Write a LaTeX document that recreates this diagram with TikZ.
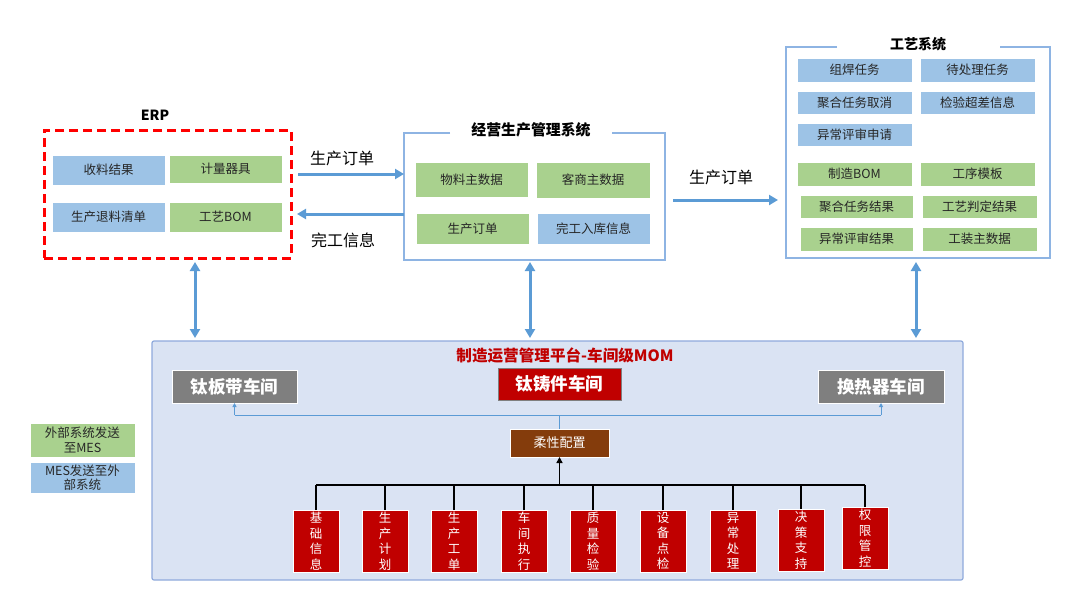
\documentclass[tikz,border=0pt]{standalone}
\usepackage{fontspec}
\setmainfont{Noto Sans CJK SC}
\usetikzlibrary{arrows.meta,calc}
\definecolor{bfill}{HTML}{9DC3E6}
\definecolor{gfill}{HTML}{A9D18E}
\definecolor{barrow}{HTML}{5B9BD5}
\definecolor{bline}{HTML}{8EB4E3}
\definecolor{momfill}{HTML}{DAE3F3}
\definecolor{momline}{HTML}{8FAADC}
\definecolor{dred}{HTML}{C00000}
\definecolor{brownbox}{HTML}{843C0C}
\definecolor{wgray}{HTML}{7F7F7F}
\definecolor{txt}{HTML}{262626}
\newcommand\bx[7]{\node[#2,minimum width={(#5-#3)*1pt},minimum height={(#6-#4)*1pt}] (#1) at ({(#3+#5)/2},{(#4+#6)/2}) {#7};}
\tikzset{
  base/.style={inner sep=0pt,outer sep=0pt},
  bluebox/.style={base,fill=bfill,draw=white,line width=0.8pt,text=txt,font=\fontsize{12.5}{14}\selectfont},
  greenbox/.style={base,fill=gfill,draw=white,line width=0.8pt,text=txt,font=\fontsize{12.5}{14}\selectfont},
  title/.style={font=\bfseries\fontsize{14}{16}\selectfont,text=black,inner sep=0pt},
  arrlabel/.style={font=\fontsize{16}{18}\selectfont,text=black,inner sep=0pt},
  bigarrow/.style={draw=barrow,line width=3pt,-{Triangle[width=10pt,length=9pt]}},
  dblarrow/.style={draw=barrow,line width=3pt,{Triangle[width=10pt,length=9pt]}-{Triangle[width=10pt,length=9pt]}},
  grayws/.style={base,fill=wgray,draw=white,line width=0.6pt,text=white,font=\bfseries\fontsize{17.5}{19}\selectfont},
  redws/.style={base,fill=dred,draw=wgray,line width=0.6pt,text=white,font=\bfseries\fontsize{17.5}{19}\selectfont},
  brownbox/.style={base,fill=brownbox,draw=white,line width=0.8pt,text=white,font=\fontsize{13}{15}\selectfont},
  redv/.style={base,fill=dred,draw=white,line width=0.5pt,text=white,align=center,font=\fontsize{12.5}{15.5}\selectfont},
  thinblue/.style={draw=barrow,line width=1pt},
  thinarrow/.style={thinblue,-{Triangle[width=4pt,length=4pt]}},
  bus/.style={draw=black,line width=1.6pt},
}
\begin{document}
\begin{tikzpicture}[x=1pt,y=-1pt]
\useasboundingbox[fill=white] (0,0) rectangle (1080,614);
% ---------------- ERP
\bx{erp}{base,draw=red,line width=3pt,dash pattern=on 9pt off 5pt}{44}{130}{291}{258}{}
\node[title] (erpt) at (155,115) {ERP};
\bx{e1}{bluebox}{52}{155}{165}{185}{收料结果}
\bx{e2}{greenbox}{169}{155}{282}{183}{计量器具}
\bx{e3}{bluebox}{52}{202}{165}{232}{生产退料清单}
\bx{e4}{greenbox}{169}{202}{282}{232}{工艺BOM}
% ---------------- middle system
\bx{mid}{base}{404}{133}{665}{260}{}
\draw[bline,line width=1.2pt] (450,133) -- (mid.north west) -- (mid.south west) -- (mid.south east) -- (mid.north east) -- (612,133);
\node[title,font=\bfseries\fontsize{14.9}{16}\selectfont] (midt) at (531,130) {经营生产管理系统};
\bx{m1}{greenbox}{415}{162}{528}{197}{物料主数据}
\bx{m2}{greenbox}{536}{162}{650}{198}{客商主数据}
\bx{m3}{greenbox}{416}{213}{529}{244}{生产订单}
\bx{m4}{bluebox}{537}{213}{650}{244}{完工入库信息}
% ---------------- right system
\bx{gy}{base}{786}{47}{1050}{258}{}
\draw[bline,line width=1.2pt] (837,47) -- (gy.north west) -- (gy.south west) -- (gy.south east) -- (gy.north east) -- (1000,47);
\node[title] (gyt) at (918,44) {工艺系统};
\bx{g1}{bluebox}{797}{58}{912}{82}{组焊任务}
\bx{g2}{bluebox}{920}{58}{1035}{82}{待处理任务}
\bx{g3}{bluebox}{797}{91}{912}{114}{聚合任务取消}
\bx{g4}{bluebox}{920}{91}{1035}{114}{检验超差信息}
\bx{g5}{bluebox}{797}{123}{912}{146}{异常评审申请}
\bx{g6}{greenbox}{797}{162}{912}{186}{制造BOM}
\bx{g7}{greenbox}{920}{162}{1035}{186}{工序模板}
\bx{g8}{greenbox}{800}{195}{913}{218}{聚合任务结果}
\bx{g9}{greenbox}{922}{195}{1037}{218}{工艺判定结果}
\bx{g10}{greenbox}{800}{227}{913}{251}{异常评审结果}
\bx{g11}{greenbox}{922}{227}{1037}{251}{工装主数据}
% ---------------- horizontal arrows
\coordinate (ya) at (0,174);
\coordinate (yb) at (0,214);
\coordinate (yc) at (0,200);
\draw[bigarrow] ($(erp.east |- ya)+(7,0)$) -- (mid.west |- ya);
\draw[bigarrow] (mid.west |- yb) -- ($(erp.east |- yb)+(6,0)$);
\draw[bigarrow] ($(mid.east |- yc)+(8,0)$) -- ($(gy.west |- yc)+(-8,0)$);
\node[arrlabel] (l1) at (342,158) {生产订单};
\node[arrlabel] (l2) at (343,240) {完工信息};
\node[arrlabel] (l3) at (721,177) {生产订单};
% ---------------- MOM platform
\bx{mom}{base,fill=momfill,draw=momline,line width=1.2pt,rounded corners=2pt}{152}{341}{963}{580}{}
\node[font=\bfseries\fontsize{15.6}{17}\selectfont,text=dred,inner sep=0pt] (momt) at (565,355) {制造运营管理平台-车间级MOM};
% vertical double arrows
\coordinate (v1) at (195,0);
\coordinate (v2) at (530,0);
\coordinate (v3) at (916,0);
\draw[dblarrow] ($(erp.south -| v1)+(0,4)$) -- ($(mom.north -| v1)+(0,-3)$);
\draw[dblarrow] ($(mid.south -| v2)+(0,2)$) -- ($(mom.north -| v2)+(0,-3)$);
\draw[dblarrow] ($(gy.south -| v3)+(0,4)$) -- ($(mom.north -| v3)+(0,-3)$);
% workshops
\bx{w1}{grayws}{172}{370}{297}{403}{钛板带车间}
\bx{w2}{redws}{498}{368}{621}{400}{钛铸件车间}
\bx{w3}{grayws}{818}{370}{944}{403}{换热器车间}
\bx{rx}{brownbox}{510}{429}{609}{457}{柔性配置}
\coordinate (wy) at (0,415);
\draw[thinblue] (rx.north) -- (rx.north |- wy);
\draw[thinblue] (w1.south |- wy) -- (w3.south |- wy);
\draw[thinarrow] (w1.south |- wy) -- (w1.south);
\draw[thinarrow] (w3.south |- wy) -- (w3.south);
% function modules
\bx{f1}{redv}{293}{510}{339}{572}{基\\础\\信\\息}
\bx{f2}{redv}{362}{510}{408}{572}{生\\产\\计\\划}
\bx{f3}{redv}{431}{510}{477}{572}{生\\产\\工\\单}
\bx{f4}{redv}{501}{510}{547}{572}{车\\间\\执\\行}
\bx{f5}{redv}{570}{510}{616}{572}{质\\量\\检\\验}
\bx{f6}{redv}{640}{510}{686}{572}{设\\备\\点\\检}
\bx{f7}{redv}{710}{510}{756}{572}{异\\常\\处\\理}
\bx{f8}{redv}{778}{509}{824}{571}{决\\策\\支\\持}
\bx{f9}{redv}{842}{507}{888}{569}{权\\限\\管\\控}
\coordinate (by) at (0,485);
\draw[bus] (f1.north |- by) -- (f9.north |- by);
\foreach \f in {f1,f2,f3,f4,f5,f6,f7,f8,f9}{\draw[bus,line width=1.3pt] (\f.north) -- (\f.north |- by);}
\draw[bus,-{Triangle[width=6pt,length=6pt]}] (rx.south |- by) -- (rx.south);
% legend
\bx{lg1}{greenbox,align=center,font=\fontsize{12.5}{14.5}\selectfont}{30}{423}{135}{457}{外部系统发送\\至MES}
\bx{lg2}{bluebox,align=center,font=\fontsize{12.5}{14.5}\selectfont}{30}{462}{135}{493}{MES发送至外\\部系统}
\end{tikzpicture}
\end{document}
